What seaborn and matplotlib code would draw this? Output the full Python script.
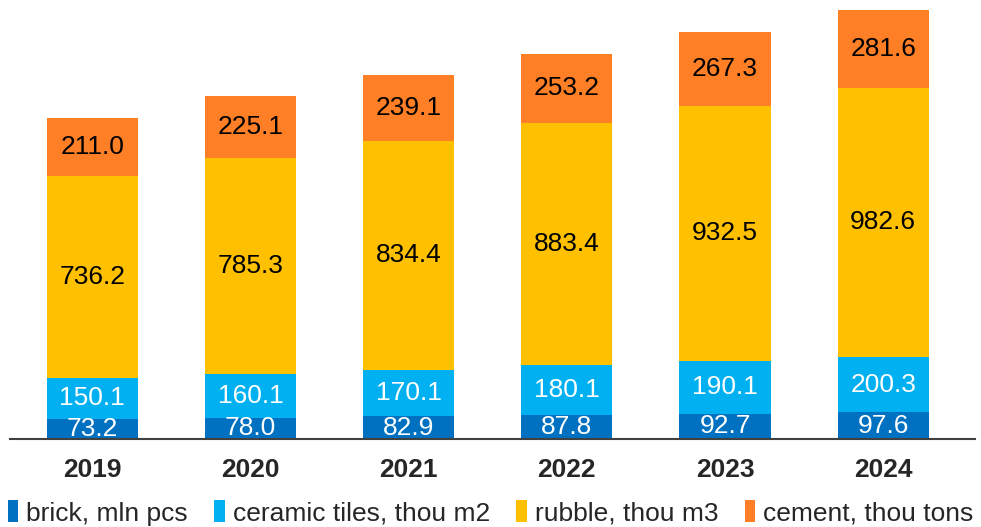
import matplotlib
matplotlib.use("Agg")
import matplotlib.pyplot as plt
import seaborn as sns
import numpy as np
import pandas as pd
from matplotlib.patches import Patch

years = ["2019", "2020", "2021", "2022", "2023", "2024"]
brick = [73.2, 78.0, 82.9, 87.8, 92.7, 97.6]
ceramic = [150.1, 160.1, 170.1, 180.1, 190.1, 200.3]
rubble = [736.2, 785.3, 834.4, 883.4, 932.5, 982.6]
cement = [211.0, 225.1, 239.1, 253.2, 267.3, 281.6]

series_names = ["brick, mln pcs", "ceramic tiles, thou m2", "rubble, thou m3", "cement, thou tons"]
series_vals = [brick, ceramic, rubble, cement]
colors = ["#0070C0", "#00B0F0", "#FFC000", "#FF7F27"]
text_colors = ["white", "white", "black", "black"]

sns.set_style("white")
plt.rcParams["font.family"] = ["Liberation Sans", "DejaVu Sans"]

fig = plt.figure(figsize=(9.81, 5.27), dpi=100)
ax = fig.add_axes([10 / 981, 88 / 527, 965 / 981, 439 / 527])

vals = np.array(series_vals)
cum = np.cumsum(vals, axis=0)

# draw cumulative totals from top down so lower layers overlap
for i in range(len(series_names) - 1, -1, -1):
    df = pd.DataFrame({"year": years, "value": cum[i]})
    sns.barplot(data=df, x="year", y="value", color=colors[i], width=0.576,
                saturation=1, ax=ax, errorbar=None, linewidth=0)

for i in range(len(series_names)):
    for j in range(len(years)):
        bottom = cum[i][j] - vals[i][j]
        yc = bottom + vals[i][j] / 2
        ax.text(j, yc, f"{vals[i][j]:.1f}", ha="center", va="center",
                fontsize=19, color=text_colors[i], clip_on=True)

ax.set_xlim(-0.52, 5.58)
ax.set_ylim(0, 1600)
ax.set_xlabel("")
ax.set_ylabel("")
ax.set_yticks([])
for s in ["top", "left", "right"]:
    ax.spines[s].set_visible(False)
ax.spines["bottom"].set_color("#404040")
ax.spines["bottom"].set_linewidth(1.5)
ax.tick_params(axis="x", length=0, pad=14, labelsize=19)
for lbl in ax.get_xticklabels():
    lbl.set_fontweight("bold")

handles = [Patch(facecolor=c, edgecolor="none") for c in colors]
fig.legend(handles, series_names, loc="center", bbox_to_anchor=(0.5, 14 / 527),
           ncol=4, frameon=False, fontsize=19, handlelength=0.4, handleheight=0.9,
           handletextpad=0.3, columnspacing=1.0, borderaxespad=0, borderpad=0)

fig.savefig("out.png", dpi=100)
